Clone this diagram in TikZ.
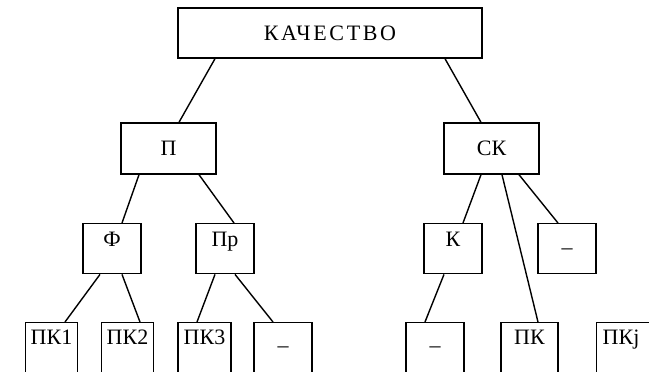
\documentclass[tikz,border=0pt]{standalone}
\usepackage{fontspec}
\setmainfont{Liberation Serif}
\begin{document}
\begin{tikzpicture}[x=1pt,y=-1pt,line width=1.4pt,
	blk/.style={draw,rectangle,inner sep=0pt,font=\fontsize{22}{24}\selectfont},
	mid/.style={blk,anchor=north,minimum width=58pt,text height=23pt,text depth=27pt},
	middash/.style={mid,text height=31pt,text depth=19pt},
	leaf/.style={blk,anchor=north,minimum width=52pt,text height=22pt,text depth=40pt},
	leafdash/.style={leaf,minimum width=58pt,text height=30pt,text depth=32pt}]
\useasboundingbox (0,0) rectangle (649,372);
% levels 1 and 2
\node[blk,minimum width=304pt,minimum height=50pt,text height=15pt,text depth=0pt](kach)at(330,33){\addfontfeature{LetterSpace=12}КАЧЕСТВО};
\node[blk,minimum width=95pt,minimum height=51pt](p)at(168.5,148.5){П};
\node[blk,minimum width=95pt,minimum height=51pt](sk)at(491.5,148.5){СК};
% level 3
\node[mid](f)at(112,223){Ф};
\node[mid](pr)at(225,223){Пр};
\node[mid](k)at(453,223){К};
\node[middash](m1)at(567,223){–};
% level 4
\node[leaf](pk1)at(51.5,322){ПК1};
\node[leaf](pk2)at(127.5,322){ПК2};
\node[leaf,minimum width=53pt](pk3)at(204.5,322){ПК3};
\node[leafdash](b4)at(283,322){–};
\node[leafdash](b5)at(435,322){–};
\node[leaf,minimum width=57pt](pk)at(529.5,322){ПК};
\node[leaf,anchor=north west,align=left,text width=52pt,inner xsep=6pt](pkj)at(596,322){ПКj};
% connectors
\draw([xshift=-115pt]kach.south)--([xshift=10.5pt]p.north)
	([xshift=115pt]kach.south)--([xshift=-10.5pt]sk.north)
	([xshift=-29.5pt]p.south)--([xshift=10pt]f.north)
	([xshift=30.5pt]p.south)--([xshift=9pt]pr.north)
	([xshift=-10.5pt]sk.south)--([xshift=10pt]k.north)
	([xshift=10.5pt]sk.south)--([xshift=8.5pt]pk.north)
	([xshift=27.5pt]sk.south)--([xshift=-9pt]m1.north)
	([xshift=-12pt]f.south)--([xshift=13.5pt]pk1.north)
	([xshift=10pt]f.south)--([xshift=12.5pt]pk2.north)
	([xshift=-10pt]pr.south)--([xshift=-7.5pt]pk3.north)
	([xshift=10pt]pr.south)--([xshift=-10pt]b4.north)
	([xshift=-9pt]k.south)--([xshift=-10pt]b5.north);
\end{tikzpicture}
\end{document}
